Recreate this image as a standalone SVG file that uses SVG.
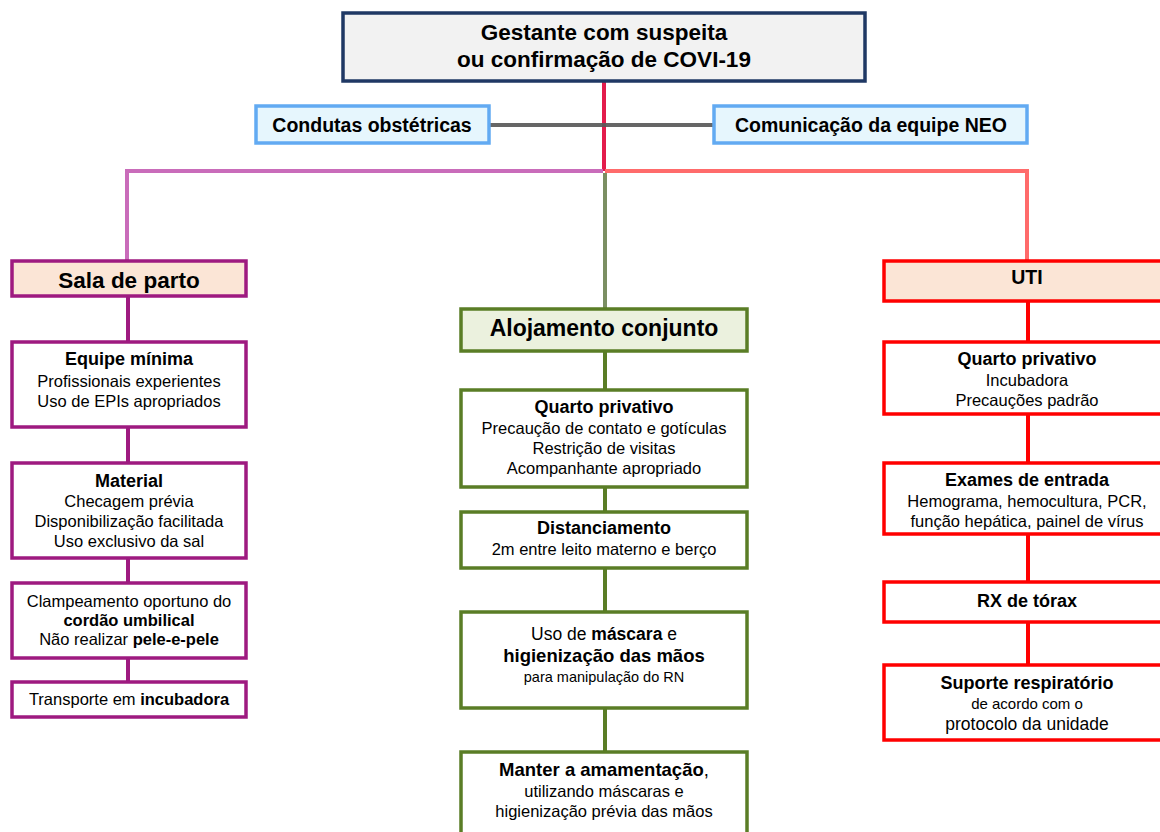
<svg xmlns="http://www.w3.org/2000/svg" width="1160" height="832" viewBox="0 0 1160 832">
<style>
text{font-family:"Liberation Sans",Arial,sans-serif;fill:#000;text-anchor:middle}
.b{font-weight:bold}
.n{font-size:16.5px}
.h{font-size:18px;font-weight:bold}
.blue{fill:#e6f6fd;stroke:#62aaf2;stroke-width:3.5}
.mag{fill:#fff;stroke:#9e1a80;stroke-width:3.5}
.grn{fill:#fff;stroke:#5a7d26;stroke-width:3.5}
.red{fill:#fff;stroke:#ff0000;stroke-width:3.5}
.conn line{stroke-width:4;fill:none}
</style>
<rect width="1160" height="832" fill="#fff"/>
<g id="connectors" class="conn">
  <line x1="604" y1="81" x2="604" y2="171" stroke="#e31c4c"/>
  <line x1="489" y1="125" x2="714" y2="125" stroke="#595959" stroke-opacity="0.92"/>
  <line x1="127" y1="171" x2="603" y2="171" stroke="#c96cba"/>
  <line x1="127" y1="169" x2="127" y2="261" stroke="#c96cba"/>
  <line x1="605" y1="171" x2="1027" y2="171" stroke="#ff6b6b"/>
  <line x1="1027" y1="169" x2="1027" y2="261" stroke="#ff6b6b"/>
  <line x1="605" y1="173" x2="605" y2="308" stroke="#7b8f63"/>
  <line x1="128" y1="296" x2="128" y2="342" stroke="#9e1a80"/>
  <line x1="128" y1="427" x2="128" y2="463" stroke="#9e1a80"/>
  <line x1="128" y1="558" x2="128" y2="583" stroke="#9e1a80"/>
  <line x1="128" y1="658" x2="128" y2="682" stroke="#9e1a80"/>
  <line x1="605" y1="352" x2="605" y2="390" stroke="#5a7d26"/>
  <line x1="605" y1="487" x2="605" y2="512" stroke="#5a7d26"/>
  <line x1="605" y1="568" x2="605" y2="612" stroke="#5a7d26"/>
  <line x1="605" y1="708" x2="605" y2="752" stroke="#5a7d26"/>
  <line x1="1028" y1="301" x2="1028" y2="342" stroke="#ff0000"/>
  <line x1="1028" y1="414" x2="1028" y2="463" stroke="#ff0000"/>
  <line x1="1028" y1="534" x2="1028" y2="582" stroke="#ff0000"/>
  <line x1="1028" y1="622" x2="1028" y2="665" stroke="#ff0000"/>
</g>
<g id="gestante">
  <rect x="343" y="13" width="522" height="68" fill="#f2f2f2" stroke="#1f3864" stroke-width="3.5"/>
  <text x="604" y="40" class="b" style="font-size:22.5px">Gestante com suspeita</text>
  <text x="604" y="67" class="b" style="font-size:22.5px">ou confirmação de COVI-19</text>
</g>
<g id="condutas">
  <rect x="256" y="106" width="233" height="37" class="blue"/>
  <text x="372" y="132" class="b" style="font-size:19.5px">Condutas obstétricas</text>
</g>
<g id="comunicacao">
  <rect x="714" y="106" width="313" height="37" class="blue"/>
  <text x="871" y="132" class="b" style="font-size:19.5px">Comunicação da equipe NEO</text>
</g>
<g id="sala-de-parto">
  <rect x="12" y="261" width="234" height="35" fill="#fbe5d6" stroke="#9e1a80" stroke-width="3.5"/>
  <text x="129" y="288" class="b" style="font-size:22.5px">Sala de parto</text>
</g>
<g id="equipe-minima">
  <rect x="12" y="342" width="234" height="85" class="mag"/>
  <text x="129" y="365" class="h">Equipe mínima</text>
  <text x="129" y="387" class="n">Profissionais experientes</text>
  <text x="129" y="407" class="n">Uso de EPIs apropriados</text>
</g>
<g id="material">
  <rect x="12" y="463" width="234" height="95" class="mag"/>
  <text x="129" y="487" class="h">Material</text>
  <text x="129" y="507" class="n">Checagem prévia</text>
  <text x="129" y="527" class="n">Disponibilização facilitada</text>
  <text x="129" y="547" class="n">Uso exclusivo da sal</text>
</g>
<g id="clampeamento">
  <rect x="12" y="583" width="234" height="75" class="mag"/>
  <text x="129" y="607" class="n">Clampeamento oportuno do</text>
  <text x="129" y="626" class="n b">cordão umbilical</text>
  <text x="129" y="645" class="n">Não realizar <tspan class="b">pele-e-pele</tspan></text>
</g>
<g id="transporte">
  <rect x="12" y="682" width="234" height="35" class="mag"/>
  <text x="129" y="705" class="n">Transporte em <tspan class="b">incubadora</tspan></text>
</g>
<g id="alojamento">
  <rect x="461" y="309" width="286" height="42" fill="#ebf1de" stroke="#5a7d26" stroke-width="3.5"/>
  <text x="604" y="336" class="b" style="font-size:23px">Alojamento conjunto</text>
</g>
<g id="quarto-privativo-ac">
  <rect x="461" y="390" width="286" height="97" class="grn"/>
  <text x="604" y="413" class="h">Quarto privativo</text>
  <text x="604" y="434" class="n">Precaução de contato e gotículas</text>
  <text x="604" y="454" class="n">Restrição de visitas</text>
  <text x="604" y="474" class="n">Acompanhante apropriado</text>
</g>
<g id="distanciamento">
  <rect x="461" y="512" width="286" height="56" class="grn"/>
  <text x="604" y="534" class="h">Distanciamento</text>
  <text x="604" y="555" class="n">2m entre leito materno e berço</text>
</g>
<g id="mascara">
  <rect x="461" y="612" width="286" height="96" class="grn"/>
  <text x="604" y="640" style="font-size:17.5px">Uso de <tspan class="b">máscara</tspan> e</text>
  <text x="604" y="662" class="b" style="font-size:18.5px">higienização das mãos</text>
  <text x="604" y="682" style="font-size:14.5px">para manipulação do RN</text>
</g>
<g id="amamentacao">
  <rect x="461" y="752" width="286" height="100" class="grn"/>
  <text x="604" y="776" style="font-size:18.5px"><tspan class="b">Manter a amamentação</tspan>,</text>
  <text x="604" y="797" class="n">utilizando máscaras e</text>
  <text x="604" y="817" class="n">higienização prévia das mãos</text>
</g>
<g id="uti">
  <rect x="884" y="261" width="290" height="40" fill="#fbe5d6" stroke="#ff0000" stroke-width="3.5"/>
  <text x="1027" y="284" class="b" style="font-size:19.5px">UTI</text>
</g>
<g id="quarto-privativo-uti">
  <rect x="884" y="342" width="290" height="72" class="red"/>
  <text x="1027" y="365" class="h">Quarto privativo</text>
  <text x="1027" y="386" class="n">Incubadora</text>
  <text x="1027" y="406" class="n">Precauções padrão</text>
</g>
<g id="exames">
  <rect x="884" y="463" width="290" height="71" class="red"/>
  <text x="1027" y="486" class="h">Exames de entrada</text>
  <text x="1027" y="507" class="n">Hemograma, hemocultura, PCR,</text>
  <text x="1027" y="527" class="n">função hepática, painel de vírus</text>
</g>
<g id="rx">
  <rect x="884" y="582" width="290" height="40" class="red"/>
  <text x="1027" y="607" class="h">RX de tórax</text>
</g>
<g id="suporte">
  <rect x="884" y="665" width="290" height="75" class="red"/>
  <text x="1027" y="689" class="h">Suporte respiratório</text>
  <text x="1027" y="709" style="font-size:15px">de acordo com o</text>
  <text x="1027" y="730" style="font-size:17.5px">protocolo da unidade</text>
</g>
</svg>
